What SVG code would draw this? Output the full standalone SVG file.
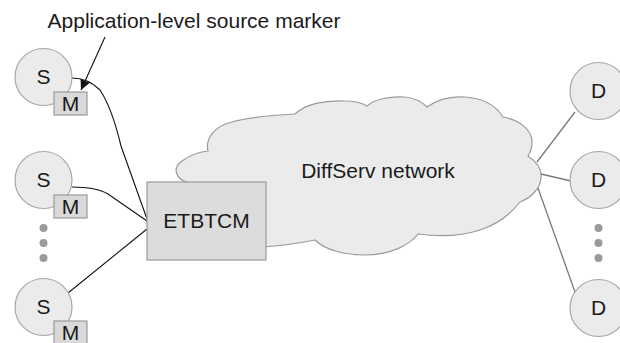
<svg xmlns="http://www.w3.org/2000/svg" width="620" height="343" viewBox="0 0 620 343">
  <style>
    .lbl { font-family: "Liberation Sans", Arial, sans-serif; font-size: 21px; fill: #1a1a1a; text-anchor: middle; }
    .host { fill: #ebebeb; stroke: #a6a6a6; stroke-width: 1.2; }
    .mark { fill: #d9d9d9; stroke: #9a9a9a; stroke-width: 1.2; }
    .dot { fill: #9a9a9a; }
    .wire { fill: none; stroke: #111; stroke-width: 1.1; }
    .link { fill: none; stroke: #7a7a7a; stroke-width: 1.3; }
  </style>
  <defs>
    <marker id="arrowhead" viewBox="0 0 10 10" refX="10" refY="5" markerWidth="10" markerHeight="10" markerUnits="userSpaceOnUse" orient="auto">
      <path d="M0,0 L10,5 L0,10 Z" fill="#111"/>
    </marker>
  </defs>
  <rect width="620" height="343" fill="#fff"/>

  <!-- DiffServ cloud -->
  <g id="cloud">
    <path d="M190,183 C175,180 172,168 182,161 C190,155 200,152 208,151 C205,138 215,126 232,122 C250,117 275,115 295,114 C305,104 325,100 345,101 C355,101 362,103 367,106 C375,99 390,96 405,97 C415,98 422,102 427,107 C438,99 452,96 465,97 C480,98 495,104 503,117 C520,120 532,130 532,142 C532,148 530,153 528,156 C537,162 542,170 541,178 C540,190 530,198 520,202 C510,215 495,225 480,230 C462,236 440,237 418,234 C410,245 390,255 365,255 C345,255 325,250 315,240 C300,243 280,246 262,247 L200,240 Z" fill="#ebebeb" stroke="#9a9a9a" stroke-width="1.2"/>
    <text class="lbl" x="378" y="178">DiffServ network</text>
  </g>

  <!-- connectors -->
  <g id="connectors">
    <path class="wire" d="M72,78 C82,78 92,82 100,90 C110,105 116,125 121,146 L147,219"/>
    <path class="wire" d="M72,187 C85,187 98,188 108,194 L147,221"/>
    <path class="wire" d="M68,293 L147,229"/>
    <path class="link" d="M537,162 L575,112"/>
    <path class="link" d="M541,174 L571,181"/>
    <path class="link" d="M538,188 L575,292"/>
    <path class="wire" d="M105,37 L81,90" marker-end="url(#arrowhead)"/>
  </g>

  <g id="caption">
    <text class="lbl" x="194" y="28">Application-level source marker</text>
  </g>

  <!-- edge classifier -->
  <g id="etbtcm">
    <rect x="147" y="182" width="119" height="78" fill="#dcdcdc" stroke="#9a9a9a" stroke-width="1.2"/>
    <text class="lbl" x="206.5" y="228">ETBTCM</text>
  </g>

  <!-- sources -->
  <g id="source1">
    <circle class="host" cx="43.5" cy="77" r="28.5"/>
    <text class="lbl" x="43.5" y="84">S</text>
    <rect class="mark" x="54" y="92" width="33" height="23"/>
    <text class="lbl" x="70.5" y="111">M</text>
  </g>
  <g id="source2">
    <circle class="host" cx="43.5" cy="180" r="28.5"/>
    <text class="lbl" x="43.5" y="187">S</text>
    <rect class="mark" x="54" y="195" width="33" height="23"/>
    <text class="lbl" x="70.5" y="214">M</text>
  </g>
  <g id="source-dots">
    <circle class="dot" cx="43.5" cy="228" r="4"/>
    <circle class="dot" cx="43.5" cy="243" r="4"/>
    <circle class="dot" cx="43.5" cy="258" r="4"/>
  </g>
  <g id="source3">
    <circle class="host" cx="43.5" cy="307" r="28.5"/>
    <text class="lbl" x="43.5" y="314">S</text>
    <rect class="mark" x="54" y="321" width="33" height="23"/>
    <text class="lbl" x="70.5" y="340">M</text>
  </g>

  <!-- destinations -->
  <g id="dest1">
    <circle class="host" cx="598.5" cy="91" r="28.5"/>
    <text class="lbl" x="598.5" y="98">D</text>
  </g>
  <g id="dest2">
    <circle class="host" cx="598.5" cy="180" r="28.5"/>
    <text class="lbl" x="598.5" y="187">D</text>
  </g>
  <g id="dest-dots">
    <circle class="dot" cx="598.5" cy="228" r="4"/>
    <circle class="dot" cx="598.5" cy="243" r="4"/>
    <circle class="dot" cx="598.5" cy="258" r="4"/>
  </g>
  <g id="dest3">
    <circle class="host" cx="598.5" cy="308" r="28.5"/>
    <text class="lbl" x="598.5" y="315">D</text>
  </g>
</svg>
